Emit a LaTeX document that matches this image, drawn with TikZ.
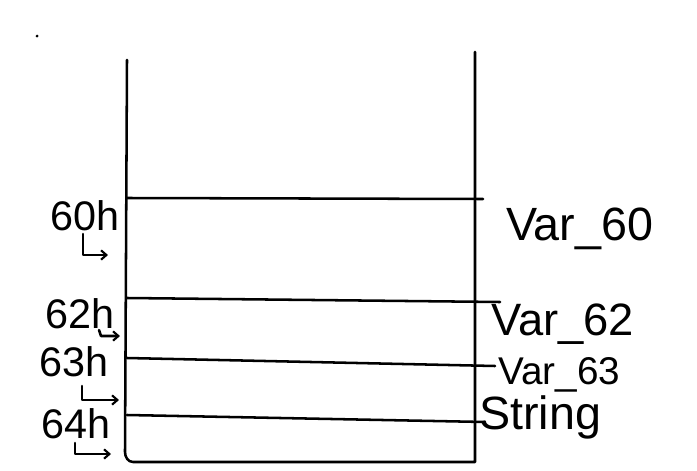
\documentclass[tikz,border=0pt]{standalone}
\usepackage{fontspec}
\setmainfont{Liberation Sans}
\usetikzlibrary{arrows.meta}
\begin{document}
\begin{tikzpicture}[x=0.75pt,y=-0.75pt,line width=1.9pt,line cap=round,line join=round,
  addr/.style={inner sep=0pt,anchor=base,font=\fontsize{31}{35}\selectfont},
  var/.style={inner sep=0pt,anchor=base west},
  hook/.style={-{Straight Barb[length=4pt,width=7pt,line width=1.6pt]}}]
\useasboundingbox (0,0) rectangle (697,471);
\fill (37,36) circle (1.5);
% stack outline
\coordinate (tl) at (127,60);
\coordinate (tr) at (475,52);
\coordinate (bl) at (125,462);
\coordinate (br) at (475,462);
\draw (tl) -- (125,452) to[out=-90,in=180] (133,462) -- (br) -- (tr);
% row separators
\coordinate (r1l) at (127,198); \coordinate (r1r) at (483,199);
\coordinate (r2l) at (127,298); \coordinate (r2r) at (500,302);
\coordinate (r3l) at (127,358); \coordinate (r3r) at (495,366);
\coordinate (r4l) at (127,415); \coordinate (r4r) at (485,422);
\draw (r1l) -- (r1r);
\draw (r2l) -- (r2r);
\draw (r3l) -- (r3r);
\draw (r4l) -- (r4r);
% addresses
\node[addr] (a60) at (85,230) {60h};
\node[addr] (a62) at (80,328) {62h};
\node[addr] (a63) at (74,376) {63h};
\node[addr] (a64) at (76,438) {64h};
% hooks
\coordinate (h1a) at (83,234); \coordinate (h1b) at (83,255); \coordinate (h1c) at (108,255);
\draw[hook] (h1a) -- (h1b) -- (h1c);
\coordinate (h2a) at (99,330); \coordinate (h2b) at (101,336); \coordinate (h2c) at (120,336);
\draw[hook] (h2a) -- (h2b) -- (h2c);
\coordinate (h3a) at (82,386); \coordinate (h3b) at (82,400); \coordinate (h3c) at (119,400);
\draw[hook] (h3a) -- (h3b) -- (h3c);
\coordinate (h4a) at (75,443); \coordinate (h4b) at (75,454); \coordinate (h4c) at (111,454);
\draw[hook] (h4a) -- (h4b) -- (h4c);
% variable names
\node[var,font=\fontsize{35}{39}\selectfont] (v60) at (505,240) {Var\_60};
\node[var,font=\fontsize{34}{38}\selectfont] (v62) at (490,335) {Var\_62};
\node[var,font=\fontsize{29}{33}\selectfont] (v63) at (497,384) {Var\_63};
\node[var,font=\fontsize{35}{39}\selectfont] (str) at (478,429) {String};
\end{tikzpicture}
\end{document}
